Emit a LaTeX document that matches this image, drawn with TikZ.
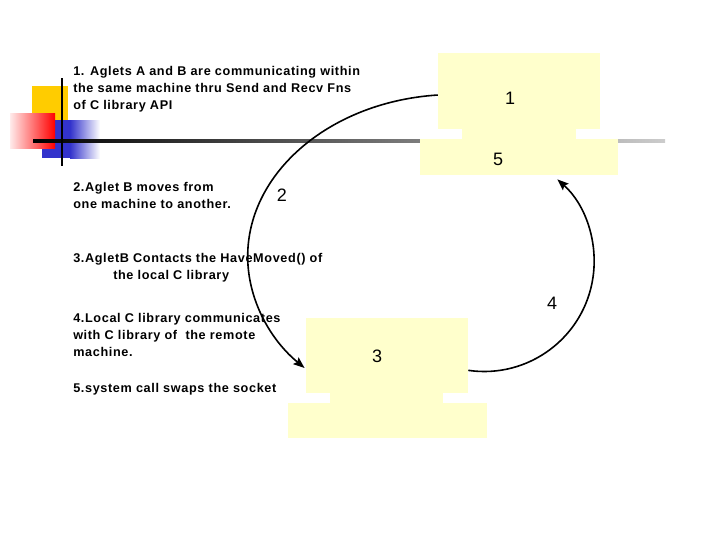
\documentclass[tikz,border=0pt]{standalone}
\usepackage{fontspec}
\setmainfont{Liberation Sans}
\newfontfamily\notefont[LetterSpace=5]{Liberation Sans}
\usetikzlibrary{arrows.meta}

\definecolor{paleyellow}{RGB}{255,255,204}
\definecolor{gold}{RGB}{255,204,0}
\definecolor{pixblue}{RGB}{51,51,204}

\begin{document}
\begin{tikzpicture}[x=0.75pt,y=-0.75pt,>={Stealth[length=8.5pt,width=6.5pt,inset=1.5pt]},
  note/.style={anchor=base west,inner sep=0pt,align=left,
    font=\notefont\bfseries\fontsize{9.5}{12.6}\selectfont},
  num/.style={inner sep=0pt,font=\fontsize{13.5}{16}\selectfont},
  pad/.style={rectangle,fill=paleyellow,inner sep=0pt},
  hop/.style={->,line width=1.2pt}]
\useasboundingbox (0,0) rectangle (720,540);

% define the corner decoration
  \fill[gold] (32,86) rectangle (68,122);
  \fill[pixblue] (42,120) rectangle (70,158);
  \shade[left color=pixblue,right color=white] (70,120) rectangle (100,158);
  \shade[left color=red!8,right color=red] (10,113) rectangle (55,148);
  \shade[left color=black,right color=black!20] (33,139.5) rectangle (665,142.5);
  \draw[line width=2.2pt] (62,78) -- (62,166);

% define the two machines
  \node[pad,minimum width=121.5pt,minimum height=57pt]   (top1) at (519,91) {};
  \fill[paleyellow] (462,128) rectangle (576,140);
  \node[pad,minimum width=148.5pt,minimum height=27pt]   (low5) at (519,157) {};
  \node[pad,minimum width=121.5pt,minimum height=56.25pt] (top3) at (387,355.8) {};
  \fill[paleyellow] (330,392) rectangle (443,404);
  \node[pad,minimum width=148.8pt,minimum height=26.25pt] (low3) at (387.5,420.8) {};

% define the step numbers
  \node[num] (n1) at (510,98.5) {1};
  \node[num] (n5) at (498,159)  {5};
  \node[num] (n3) at (377,356.5) {3};
  \node[num] (n2) at (282,195)  {2};
  \node[num] (n4) at (552,303)  {4};

% define the links
  \draw[hop] ([yshift=-3pt]top1.west) arc[start angle=-94.7,end angle=-223.5,x radius=207,y radius=162];
  \draw[hop] ([yshift=-10.9pt]top3.east) arc[start angle=98.3,end angle=-48.3,radius=110];

% define the notes
  \node[note] (step1) at (73,109.5) {1. Aglets A and B are communicating within\\the same machine thru Send and Recv Fns\\of C library API};
  \node[note] (step2) at (73,208.5) {2.Aglet B moves from\\one machine to another.};
  \node[note] (step3) at (73,279.5) {3.AgletB Contacts the HaveMoved() of\\\hspace*{30pt}the local C library};
  \node[note] (step4) at (73,356.5) {4.Local C library communicates\\with C library of \ the remote\\machine.};
  \node[note] (step5) at (73,392) {5.system call swaps the socket};

\end{tikzpicture}
\end{document}
